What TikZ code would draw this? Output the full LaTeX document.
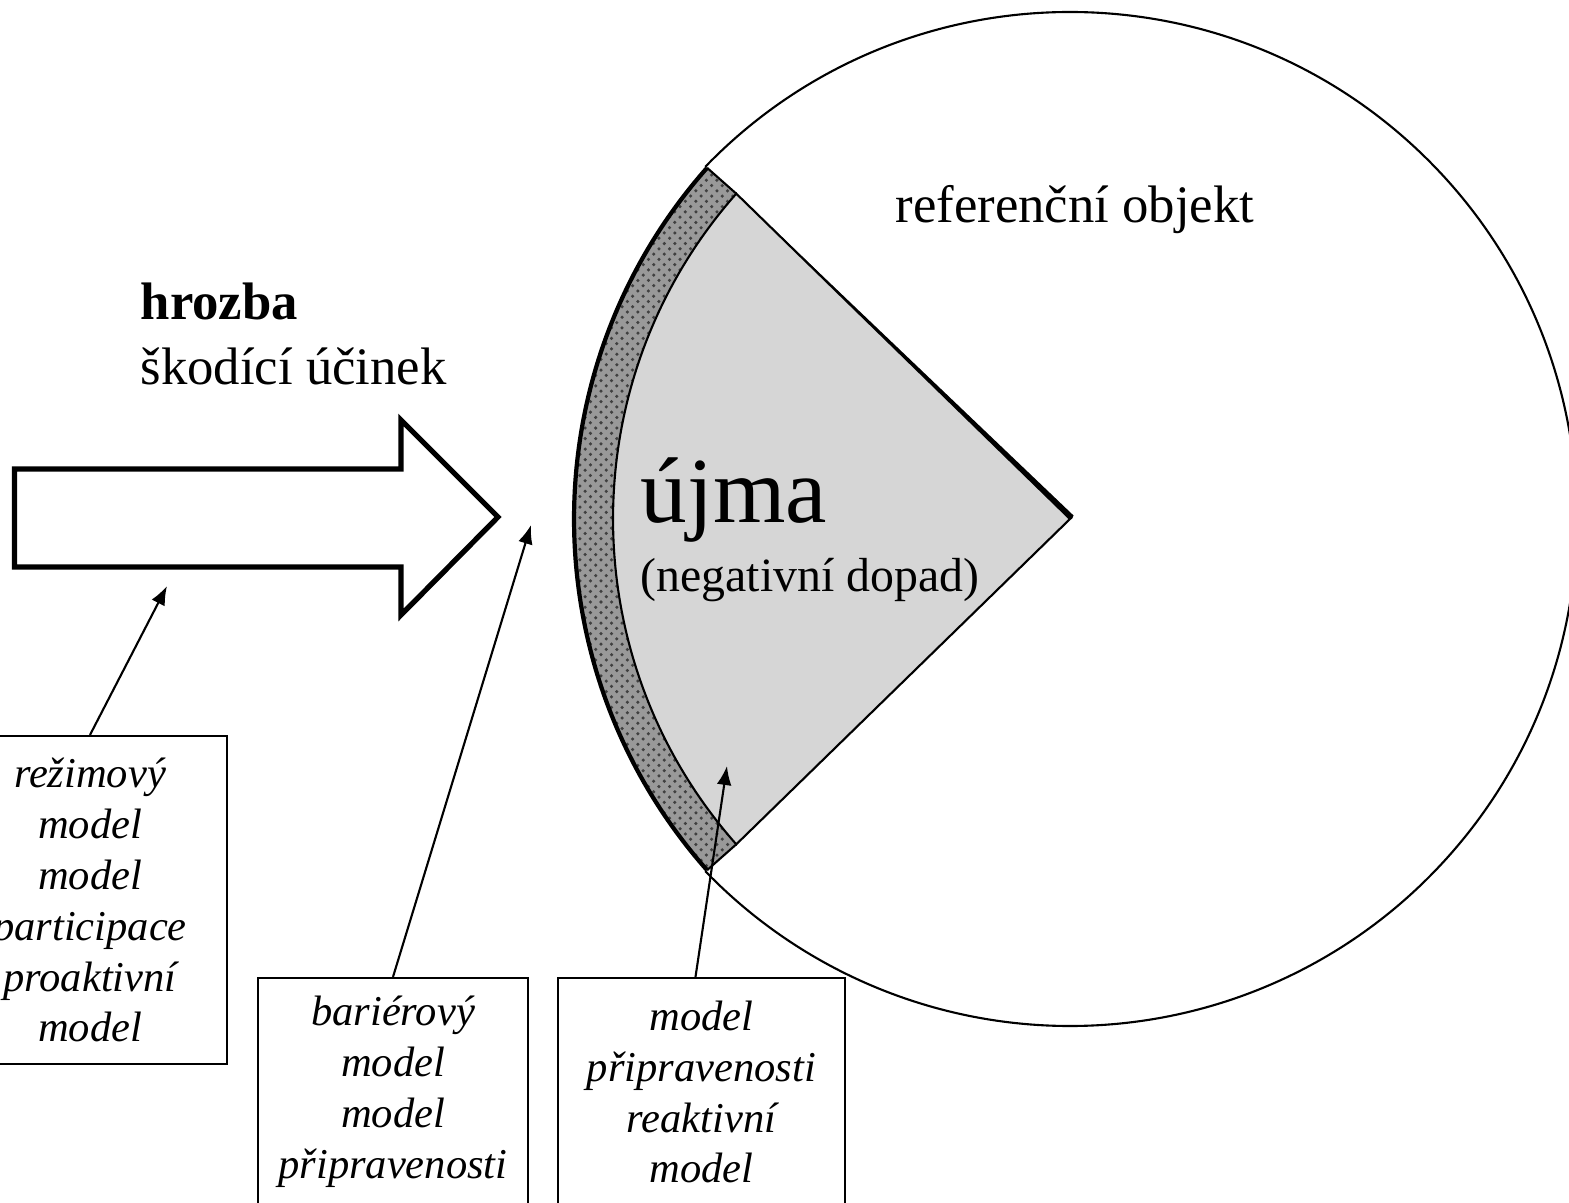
\documentclass[tikz,border=0pt]{standalone}
\usepackage{fontspec}
\setmainfont{Liberation Serif}
\usetikzlibrary{positioning, arrows.meta, patterns, calc}

\begin{document}
\begin{tikzpicture}[
      >={Latex[length=5.4pt,width=4.2pt]},
      thinline/.style={line width=0.6pt},
      model/.style={draw,line width=0.6pt,align=center,inner sep=0pt,
        font=\fontsize{12.1}{14.5}\selectfont\itshape},
      lab/.style={inner sep=0pt,font=\fontsize{15}{18}\selectfont}
    ]
    \useasboundingbox (0,0) rectangle (15.69,12.03);

    % centres
    \coordinate (ctr) at (10.70,6.84);   % circle centre, apex of the sector
    \coordinate (bc)  at (11.04,6.84);   % centre of the band arcs
    \coordinate (uo) at ($(bc)+(138.5:5.30)$);
    \coordinate (ui) at ($(bc)+(138.5:4.91)$);
    \coordinate (li) at ($(bc)+(221.5:4.91)$);
    \coordinate (lo) at ($(bc)+(221.5:5.30)$);

    % reference object (circle, open on the left)
    \draw[thinline] ($(ctr)+(136:5.07)$) arc[start angle=136,end angle=-136,radius=5.07];

    % band
    \path[fill=black!40,postaction={pattern=crosshatch dots,pattern color=black!75}]
      (uo) arc[start angle=138.5,end angle=221.5,radius=5.30] -- (li)
      arc[start angle=221.5,end angle=138.5,radius=4.91] -- cycle;
    \draw[thinline] (uo) -- (ui);
    \draw[thinline] (lo) -- (li);
    \draw[line width=1.2pt] (uo) arc[start angle=138.5,end angle=221.5,radius=5.30];

    % harm sector
    \filldraw[fill=black!16,thinline] (ctr) -- (li)
      arc[start angle=221.5,end angle=138.5,radius=4.91] -- cycle;
    \fill (ui) -- ($(ctr)+(45:0.05)$) -- ($(ctr)+(0:0.02)$) -- (ctr) -- cycle;

    % threat arrow
    \draw[line width=1.5pt] (0.145,7.34) -- (4.01,7.34) -- (4.01,7.83) -- (4.98,6.86)
      -- (4.01,5.88) -- (4.01,6.36) -- (0.145,6.36) -- cycle;

    % labels
    \node[lab,font=\fontsize{15}{18}\selectfont\bfseries,anchor=base west] (threat) at (1.40,8.83) {hrozba};
    \node[lab,anchor=base west] (effect) at ([yshift=-0.65cm]threat.base west) {škodící účinek};
    \node[lab,anchor=base west] (object) at (8.95,9.80) {referenční objekt};
    \node[inner sep=0pt,anchor=base west,font=\fontsize{26.5}{30}\selectfont] (harm) at (6.40,6.80) {újma};
    \node[inner sep=0pt,anchor=base west,font=\fontsize{13.6}{16}\selectfont] (impact) at (6.40,6.11) {(negativní dopad)};

    % model boxes
    \node[model,minimum width=2.74cm,minimum height=3.28cm] (regime) at (0.90,3.03)
      {režimový\\model\\model\\participace\\proaktivní\\model};
    \node[model,minimum width=2.70cm,minimum height=2.28cm] (barrier) at (3.93,1.11)
      {bariérový\\model\\model\\připravenosti};
    \node[model,minimum width=2.87cm,minimum height=2.28cm] (ready) at (7.015,1.11)
      {model\\připravenosti\\reaktivní\\model};

    % pointers
    \coordinate (hitarrow) at (1.67,6.17);
    \coordinate (hitgap)   at (5.31,6.78);
    \coordinate (hitharm)  at (7.27,4.37);
    \draw[->,thinline] (regime.north) -- (hitarrow);
    \draw[->,thinline] (barrier.north) -- (hitgap);
    \draw[->,thinline] ([xshift=-0.06cm]ready.north) -- (hitharm);

    \end{tikzpicture}
\end{document}
